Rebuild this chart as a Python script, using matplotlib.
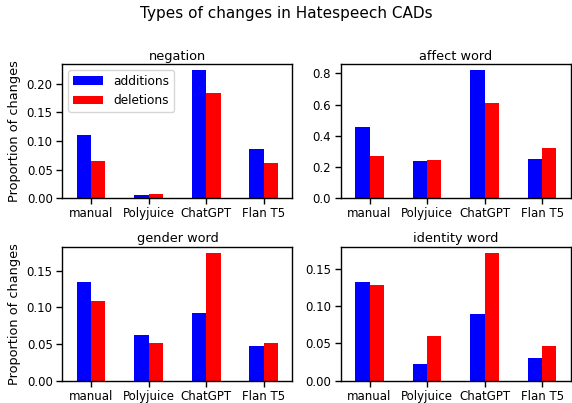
import matplotlib
import matplotlib.pyplot as plt
import numpy as np

matplotlib.use("Agg")

models = ["manual", "Polyjuice", "ChatGPT", "Flan T5"]
panels = ["negation", "affect word", "gender word", "identity word"]

negation_add = [0.110, 0.005, 0.223, 0.086]
negation_del = [0.065, 0.007, 0.183, 0.061]
affect_add = [0.455, 0.238, 0.818, 0.251]
affect_del = [0.270, 0.244, 0.613, 0.321]
gender_add = [0.134, 0.062, 0.092, 0.047]
gender_del = [0.108, 0.051, 0.174, 0.051]
identity_add = [0.132, 0.022, 0.089, 0.030]
identity_del = [0.128, 0.060, 0.171, 0.046]

additions = [negation_add, affect_add, gender_add, identity_add]
deletions = [negation_del, affect_del, gender_del, identity_del]

plt.rcParams.update({"font.size": 8.5, "xtick.major.size": 4.5, "ytick.major.size": 4.5,
                     "xtick.major.pad": 2, "ytick.major.pad": 2.5,
                     "xtick.major.width": 1, "ytick.major.width": 1, "axes.linewidth": 1})

fig, axes = plt.subplots(2, 2, figsize=(5.72, 4.03), dpi=100)
x = np.arange(len(models))
w = 0.25
for i, ax in enumerate(axes.flat):
    ax.bar(x - w / 2, additions[i], w, color="blue", label="additions")
    ax.bar(x + w / 2, deletions[i], w, color="red", label="deletions")
    ax.set_xticks(x)
    ax.set_xticklabels(models)
    ax.set_xlim(-0.5, 3.5)
    ax.set_title(panels[i], fontsize=9.3, pad=3)
    if i % 2 == 0:
        ax.set_ylabel("Proportion of changes", fontsize=9.3)
axes[0, 0].legend(loc="upper left", fontsize=8.7, handlelength=2.5)

fig.suptitle("Types of changes in Hatespeech CADs", fontsize=11, y=0.985)
fig.subplots_adjust(left=0.109, right=0.998, top=0.841, bottom=0.055, wspace=0.21, hspace=0.36)
fig.savefig("out.png")
